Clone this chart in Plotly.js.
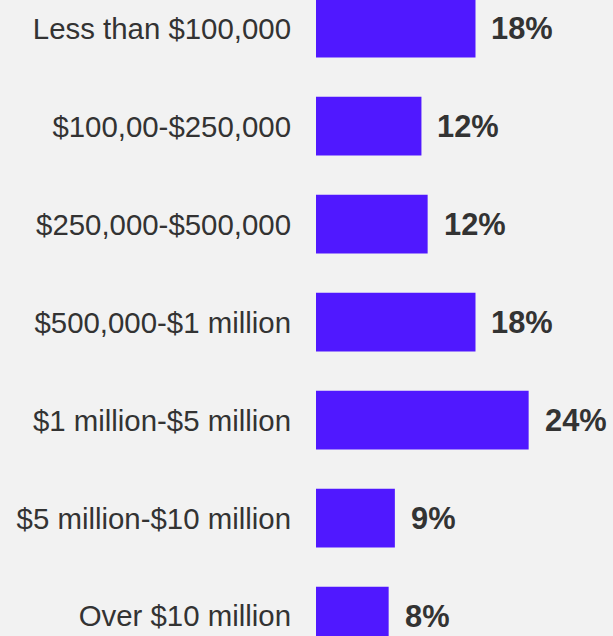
<!DOCTYPE html>
<html>
<head>
<meta charset="utf-8">
<script src="https://cdn.plot.ly/plotly-3.0.1.min.js"></script>
<style>
html,body{margin:0;padding:0;background:#f2f2f2;}
#chart{width:613px;height:636px;}
</style>
</head>
<body>
<div id="chart"></div>
<script>
const categories = [
  "Less than $100,000",
  "$100,00-$250,000",
  "$250,000-$500,000",
  "$500,000-$1 million",
  "$1 million-$5 million",
  "$5 million-$10 million",
  "Over $10 million"
];
const values = [18, 11.9, 12.6, 18, 24, 8.9, 8.2];
const valueLabels = ["18%", "12%", "12%", "18%", "24%", "9%", "8%"];

const trace = {
  type: "bar",
  orientation: "h",
  x: values,
  y: categories,
  width: 0.6,
  marker: {color: "#5018ff", line: {width: 0}},
  hoverinfo: "none"
};

const annotations = values.map((v, i) => ({
  x: v,
  y: categories[i],
  xref: "x",
  yref: "y",
  text: "<b>" + valueLabels[i] + "</b>",
  showarrow: false,
  xanchor: "left",
  yanchor: "middle",
  xshift: 14,
  font: {family: "Liberation Sans, Arial, sans-serif", size: 30.8, color: "#333333"}
}));

const layout = {
  width: 613,
  height: 636,
  margin: {l: 316, r: 0, t: 0, b: 0},
  paper_bgcolor: "#f2f2f2",
  plot_bgcolor: "#f2f2f2",
  showlegend: false,
  xaxis: {
    range: [0, 33.52],
    visible: false,
    showgrid: false,
    zeroline: false,
    fixedrange: true
  },
  yaxis: {
    type: "category",
    range: [6.202, -0.288],
    showgrid: false,
    zeroline: false,
    showline: false,
    ticks: "",
    ticklabelstandoff: 24,
    tickfont: {family: "Liberation Sans, Arial, sans-serif", size: 29.4, color: "#333333"},
    fixedrange: true
  },
  annotations: annotations
};

Plotly.newPlot("chart", [trace], layout, {displayModeBar: false, staticPlot: true});
</script>
</body>
</html>
